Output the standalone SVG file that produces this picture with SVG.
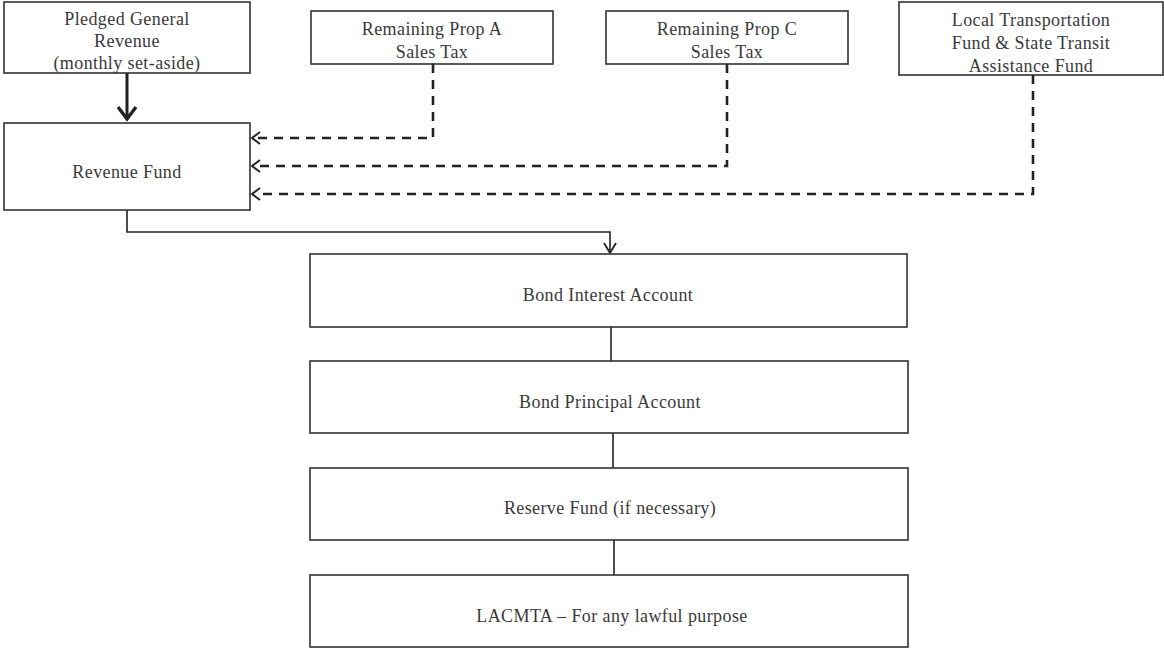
<svg xmlns="http://www.w3.org/2000/svg" width="1164" height="650" viewBox="0 0 1164 650">
<style>
.box{fill:#fff;stroke:#333;stroke-width:1.6}
.t{font-family:"Liberation Serif","Times New Roman",serif;font-size:18px;letter-spacing:0.4px;fill:#3a3a3a;text-anchor:middle}
.dash{fill:none;stroke:#222;stroke-width:2.6;stroke-dasharray:9 7}
.solid{fill:none;stroke:#222;stroke-width:1.6}
.head{fill:none;stroke:#222;stroke-width:1.8}
</style>
<rect width="1164" height="650" fill="#fff"/>
<g id="connectors">
<path class="solid" d="M127,73 V117" style="stroke-width:3"/>
<path class="head" d="M118,107 L127,119 L136,107" style="stroke-width:3.4"/>
<path class="dash" d="M433,64 V138 H258"/>
<path class="head" d="M260,132 L252,138 L260,144" style="stroke-width:2"/>
<path class="dash" d="M727,64 V166 H258"/>
<path class="head" d="M260,160 L252,166 L260,172" style="stroke-width:2"/>
<path class="dash" d="M1033,75 V194 H258"/>
<path class="head" d="M260,188 L252,194 L260,200" style="stroke-width:2"/>
<path class="solid" d="M127,210 V232 H610 V252"/>
<path class="head" d="M604,243 L610,253 L616,243"/>
<path class="solid" d="M611,327 V361"/>
<path class="solid" d="M613,433 V468"/>
<path class="solid" d="M614,540 V575"/>
</g>
<g id="pledged">
<rect class="box" x="4" y="2" width="246" height="71"/>
<text class="t" x="127" y="25">Pledged General</text>
<text class="t" x="127" y="47">Revenue</text>
<text class="t" x="127" y="69">(monthly set-aside)</text>
</g>
<g id="propA">
<rect class="box" x="311" y="11" width="242" height="53"/>
<text class="t" x="432" y="35">Remaining Prop A</text>
<text class="t" x="432" y="58">Sales Tax</text>
</g>
<g id="propC">
<rect class="box" x="606" y="11" width="242" height="53"/>
<text class="t" x="727" y="35">Remaining Prop C</text>
<text class="t" x="727" y="58">Sales Tax</text>
</g>
<g id="local">
<rect class="box" x="899" y="2" width="264" height="73"/>
<text class="t" x="1031" y="26">Local Transportation</text>
<text class="t" x="1031" y="49">Fund &amp; State Transit</text>
<text class="t" x="1031" y="72">Assistance Fund</text>
</g>
<g id="revenue">
<rect class="box" x="4" y="123" width="246" height="87"/>
<text class="t" x="127" y="178">Revenue Fund</text>
</g>
<g id="interest">
<rect class="box" x="310" y="254" width="597" height="73"/>
<text class="t" x="608" y="301">Bond Interest Account</text>
</g>
<g id="principal">
<rect class="box" x="310" y="361" width="598" height="72"/>
<text class="t" x="610" y="408">Bond Principal Account</text>
</g>
<g id="reserve">
<rect class="box" x="310" y="468" width="598" height="72"/>
<text class="t" x="610" y="514">Reserve Fund (if necessary)</text>
</g>
<g id="lacmta">
<rect class="box" x="310" y="575" width="598" height="72"/>
<text class="t" x="612" y="622">LACMTA – For any lawful purpose</text>
</g>
</svg>
